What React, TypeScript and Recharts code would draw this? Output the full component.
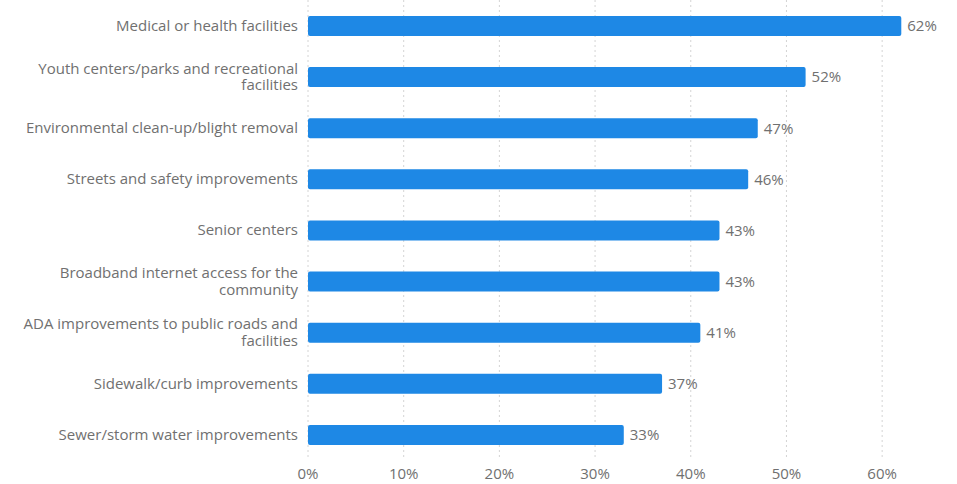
import React from "react";
import { BarChart, Bar, XAxis, YAxis, CartesianGrid, LabelList, Text } from "recharts";

const categories = [
  "Medical or health facilities",
  "Youth centers/parks and recreational facilities",
  "Environmental clean-up/blight removal",
  "Streets and safety improvements",
  "Senior centers",
  "Broadband internet access for the community",
  "ADA improvements to public roads and facilities",
  "Sidewalk/curb improvements",
  "Sewer/storm water improvements",
];

const shares = [62, 52, 47, 46, 43, 43, 41, 37, 33];

const xTicks = [0, 10, 20, 30, 40, 50, 60];

const data = categories.map((name, i) => ({ name, value: shares[i] }));

const FONT = "'Open Sans', 'Noto Sans', sans-serif";
const TEXT_COLOR = "#707070";
const FONT_SIZE = 15;

const CategoryTick = (props: any) => {
  const { x, y, payload } = props;
  return (
    <Text
      x={x}
      y={y}
      width={285}
      textAnchor="end"
      verticalAnchor="middle"
      lineHeight="1.1em"
      fontSize={FONT_SIZE}
      fontFamily={FONT}
      fill={TEXT_COLOR}
    >
      {payload.value}
    </Text>
  );
};

export default function App() {
  return (
    <div style={{ position: "absolute", left: 0, top: 0 }}>
      <BarChart
        width={957}
        height={484}
        data={data}
        layout="vertical"
        margin={{ top: 0, right: 27, bottom: 0, left: 0 }}
        barCategoryGap={0}
      >
        <CartesianGrid
          horizontal={false}
          vertical={true}
          syncWithTicks
          stroke="#d4d4d4"
          strokeDasharray="2 3"
        />
        <XAxis
          type="number"
          domain={[0, 65]}
          ticks={xTicks}
          tickFormatter={(v: number) => `${v}%`}
          axisLine={false}
          tickLine={false}
          height={24}
          tick={{ fontSize: FONT_SIZE, fontFamily: FONT, fill: TEXT_COLOR }}
        />
        <YAxis
          type="category"
          dataKey="name"
          width={308}
          axisLine={false}
          tickLine={false}
          tickMargin={4}
          tick={<CategoryTick />}
          interval={0}
        />
        <Bar
          dataKey="value"
          fill="#1e88e5"
          barSize={20}
          radius={2}
          isAnimationActive={false}
        >
          <LabelList
            dataKey="value"
            position="right"
            offset={6}
            formatter={(v: any) => `${v}%`}
            style={{ fontSize: FONT_SIZE, fontFamily: FONT, fill: TEXT_COLOR }}
          />
        </Bar>
      </BarChart>
    </div>
  );
}
